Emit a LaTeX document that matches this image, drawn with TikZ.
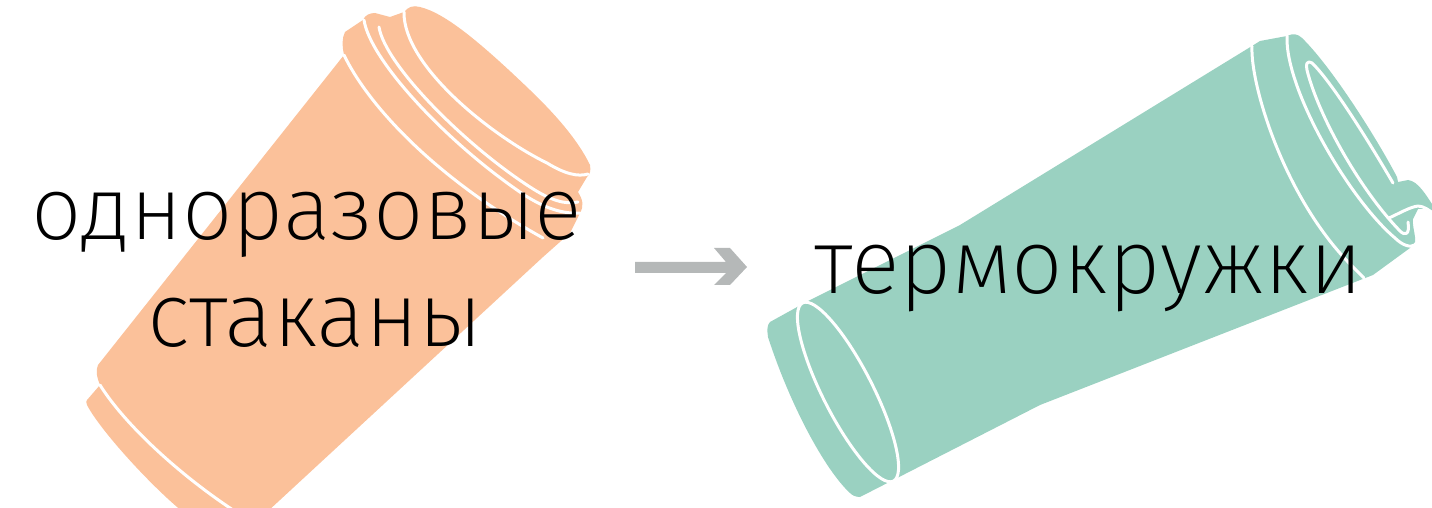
\documentclass[tikz,border=0pt]{standalone}
\usepackage{fontspec}
\setmainfont{Fira Sans ExtraLight}
\definecolor{cuporange}{HTML}{FBC19A}
\definecolor{mugteal}{HTML}{9AD1C1}
\definecolor{arrowgrey}{HTML}{B5B8B8}
\tikzset{
  cupline/.style={draw=white,line width=1.5pt,line cap=round,line join=round},
  bigtext/.style={inner sep=0pt,anchor=base,text=black},
}
\begin{document}
\begin{tikzpicture}[x=0.5pt,y=-0.5pt]
\useasboundingbox (0,0) rectangle (1432,508);
\clip (0,0) rectangle (1432,508);
% orange cup
\fill[cuporange]
  (404,12) .. controls (408,7) and (413,5) .. (420,7)
  .. controls (445,13) and (480,42) .. (530,90)
  .. controls (555,114) and (578,140) .. (590,165)
  .. controls (591,171) and (590,174) .. (587,177)
  -- (578,192) .. controls (583,200) and (584,206) .. (580,213)
  -- (570,233) -- (543,257) -- (267,512) -- (183,512)
  .. controls (150,485) and (100,430) .. (87,405)
  .. controls (86,402) and (86,401) .. (87,400) -- (100,385)
  .. controls (96,375) and (96,370) .. (98,365)
  -- (344,55)
  .. controls (342,45) and (342,38) .. (345,32)
  -- (363,20) .. controls (365,15) and (370,13) .. (375,13)
  -- (390,17) -- cycle;
\draw[cupline] (344,55) .. controls (368,105) and (435,178) .. (543,238);
\draw[cupline] (364,20) .. controls (370,60) and (445,140) .. (517,190) .. controls (545,210) and (565,214) .. (580,213);
\draw[cupline] (379,27) .. controls (385,65) and (465,145) .. (530,187) .. controls (550,200) and (565,205) .. (578,202);
\draw[cupline] (404,12) .. controls (403,65) and (490,135) .. (547,163) .. controls (565,174) and (578,177) .. (588,174);
\draw[cupline] (100,385) .. controls (125,425) and (180,475) .. (233,510);
% grey arrow
\fill[arrowgrey] (635,262) -- (726,262) -- (714,248) -- (730,248) -- (747,267) -- (730,285) -- (714,285) -- (726,273) -- (635,273) -- cycle;
% teal mug
\fill[mugteal]
  (1252,46) -- (1260,41) -- (1287,36)
  .. controls (1293,33) and (1298,34) .. (1302,38)
  .. controls (1330,65) and (1375,135) .. (1397,177)
  -- (1398,182) -- (1408,180)
  .. controls (1418,181) and (1426,195) .. (1434,207)
  -- (1434,214) -- (1425,209) -- (1418,209)
  -- (1413,219) .. controls (1412,226) and (1416,236) .. (1415,242)
  -- (1410,248) -- (1373,275) -- (1040,405) -- (860,497)
  .. controls (855,497) and (852,495) .. (850,493)
  .. controls (825,470) and (790,405) .. (768,337)
  .. controls (767,330) and (767,325) .. (770,322)
  -- (808,301) -- (960,225) -- cycle;
\draw[cupline,rotate around={-63:(848,392)}] (848,392) ellipse [x radius=100,y radius=25];
\draw[cupline] (1252,46) .. controls (1250,85) and (1285,200) .. (1353,267) -- (1364,278);
\draw[cupline] (1287,36) .. controls (1285,90) and (1350,200) .. (1395,238) .. controls (1402,245) and (1410,248) .. (1415,245);
\draw[cupline] (1393,183) .. controls (1365,135) and (1330,80) .. (1312,63) .. controls (1306,60) and (1306,65) .. (1307,70) .. controls (1318,115) and (1360,190) .. (1400,231) .. controls (1405,236) and (1410,235) .. (1408,222);
\draw[cupline] (1389,218) .. controls (1400,213) and (1410,207) .. (1418,206) .. controls (1424,206) and (1430,211) .. (1434,214);
% labels
\node[bigtext,font=\fontsize{44.5pt}{44.5pt}\selectfont] (a) at (307,240) {одноразовые};
\node[bigtext,font=\fontsize{45.5pt}{45.5pt}\selectfont] (b) at (315,347) {стаканы};
\node[bigtext,font=\fontsize{45.5pt}{45.5pt}\selectfont] (c) at (1089,293) {термокружки};
\end{tikzpicture}
\end{document}
